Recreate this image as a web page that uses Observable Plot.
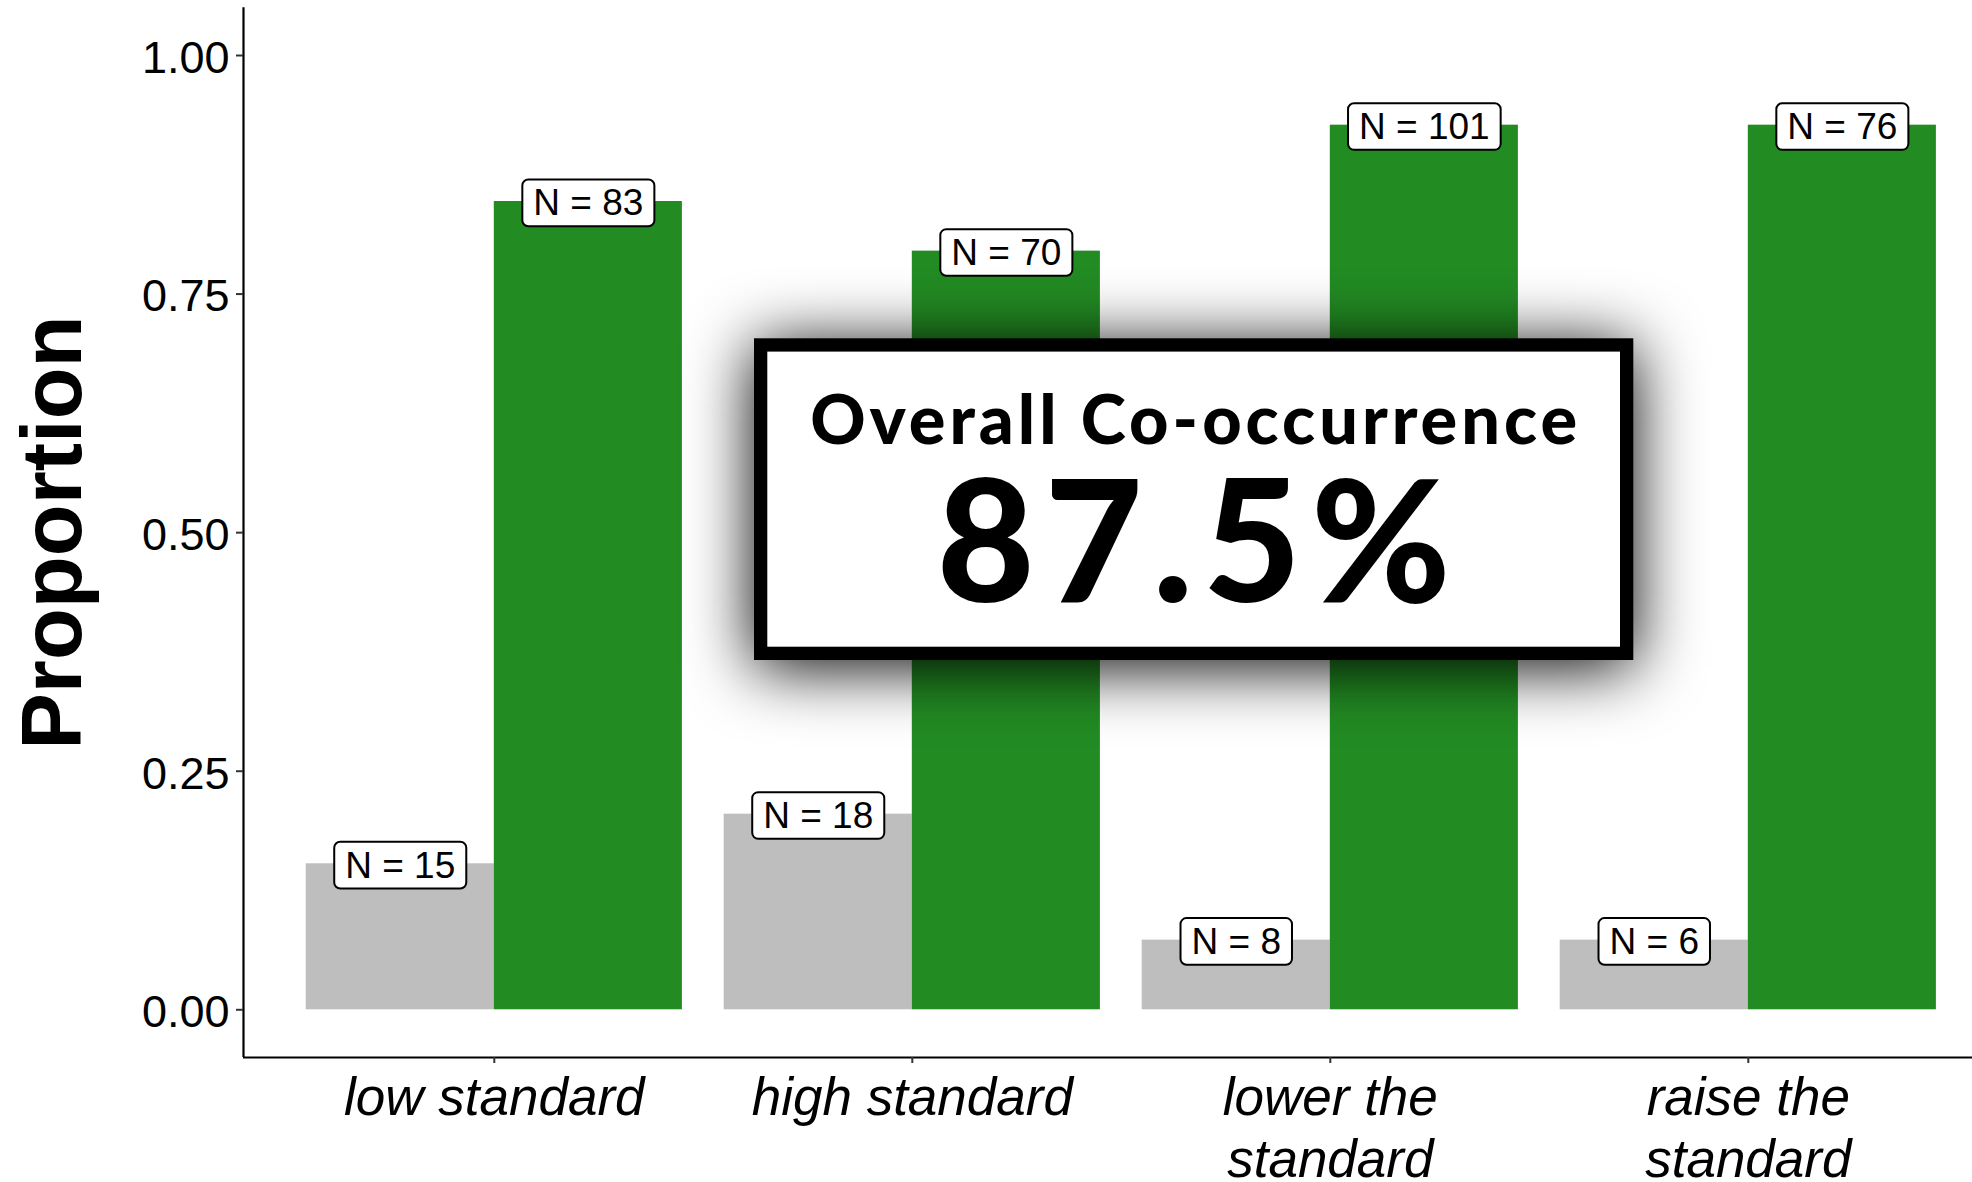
<!DOCTYPE html>
<html>
<head>
<meta charset="utf-8">
<script src="https://cdn.jsdelivr.net/npm/d3@7"></script>
<script src="https://cdn.jsdelivr.net/npm/@observablehq/plot@0.6"></script>
<style>
  html, body { margin: 0; padding: 0; background: #fff; overflow: hidden; }
  #chart { position: relative; width: 1972px; height: 1182px; }
  #chart svg { display: block; overflow: hidden; max-width: none; }
  g[aria-label="y-axis tick"], g[aria-label="x-axis tick"] { stroke: #333; stroke-width: 2px; }
</style>
</head>
<body>
<div id="chart"></div>
<script>
// ---- data ----
const categories = ["low standard", "high standard", "lower the standard", "raise the standard"];
const tickLabels = ["low standard", "high standard", "lower the\nstandard", "raise the\nstandard"];
const groups = ["other", "co-occurring"];
const proportionOther = [0.153, 0.205, 0.073, 0.073];
const proportionCo = [0.847, 0.795, 0.927, 0.927];
const countOther = [15, 18, 8, 6];
const countCo = [83, 70, 101, 76];
const yTicks = [0, 0.25, 0.5, 0.75, 1];
const yLabel = "Proportion";
const overallTitle = "Overall Co-occurrence";
const overallValue = "87.5%";
const colors = ["#BEBEBE", "#228B22"];

const rows = categories.flatMap((c, i) => [
  {category: c, index: i, group: groups[0], value: proportionOther[i], n: countOther[i]},
  {category: c, index: i, group: groups[1], value: proportionCo[i], n: countCo[i]}
]);

// dodge like ggplot (total width 0.9 per category)
const dodge = 0.45;
const left = d => d.index + (d.group === groups[0] ? -dodge : 0);
const right = d => left(d) + dodge;
const mid = d => left(d) + dodge / 2;

const font = "'Liberation Sans', Arimo, Helvetica, Arial, sans-serif";

const plot = Plot.plot({
  width: 1972,
  height: 1182,
  marginTop: 7.3,
  marginBottom: 125,
  marginLeft: 243,
  marginRight: 0,
  style: {fontFamily: font, background: "white", color: "black"},
  x: {domain: [-0.6, 3.6], range: [243, 1998.6]},
  y: {domain: [-0.05, 1.05]},
  color: {domain: groups, range: colors},
  marks: [
    Plot.rectY(rows, {x1: left, x2: right, y1: 0, y2: "value", fill: "group"}),
    Plot.ruleX([-0.6], {stroke: "black", strokeWidth: 2.2}),
    Plot.ruleY([-0.05], {stroke: "black", strokeWidth: 2.2}),
    Plot.axisY({ticks: yTicks, tickSize: 7, tickFormat: () => "", label: null}),
    Plot.axisY({ticks: yTicks, tickSize: 0, tickPadding: 14, tickFormat: d3.format(".2f"),
                fontSize: 45, dy: 3, label: null}),
    Plot.axisX({ticks: [0, 1, 2, 3], tickSize: 6, tickPadding: 7, tickFormat: i => tickLabels[i],
                fontSize: 53, fontStyle: "italic", lineHeight: 1.17, label: null}),
    Plot.text([yLabel], {text: d => d, frameAnchor: "left", textAnchor: "middle", rotate: -90, dx: -190,
                         fontSize: 85, fontWeight: "bold"}),
    Plot.text(rows, {x: mid, y: "value", text: d => `N = ${d.n}`, fontSize: 37, dy: 2, fill: "black"})
  ]
});

document.getElementById("chart").appendChild(plot);

// rounded label boxes (geom_label look) behind the N texts
const svg = d3.select(plot);
svg.selectAll("text").filter(function () { return /^N = /.test(this.textContent); }).each(function () {
  const bb = this.getBBox();
  const h = 46.7, padX = 11;
  const cx = bb.x + bb.width / 2, cy = bb.y + bb.height / 2;
  const r = document.createElementNS("http://www.w3.org/2000/svg", "rect");
  r.setAttribute("x", cx - bb.width / 2 - padX);
  r.setAttribute("y", cy - h / 2);
  r.setAttribute("width", bb.width + 2 * padX);
  r.setAttribute("height", h);
  r.setAttribute("rx", 6);
  r.setAttribute("fill", "white");
  r.setAttribute("stroke", "black");
  r.setAttribute("stroke-width", 2);
  const t = this.getAttribute("transform");
  if (t) r.setAttribute("transform", t);
  this.parentNode.insertBefore(r, this);
});

// overall annotation box with drop shadow
const defs = svg.append("defs");
const filt = defs.append("filter").attr("id", "boxshadow")
  .attr("filterUnits", "userSpaceOnUse")
  .attr("x", 560).attr("y", 160).attr("width", 1280).attr("height", 700);
filt.append("feGaussianBlur").attr("in", "SourceAlpha").attr("stdDeviation", 33).attr("result", "blur");
filt.append("feOffset").attr("in", "blur").attr("dx", 0).attr("dy", 7).attr("result", "off");
const merge = filt.append("feMerge");
merge.append("feMergeNode").attr("in", "off");
merge.append("feMergeNode").attr("in", "SourceGraphic");

const box = {x0: 754, y0: 338.3, x1: 1633.3, y1: 660, border: 13.3};
svg.append("rect")
  .attr("x", box.x0 + box.border / 2).attr("y", box.y0 + box.border / 2)
  .attr("width", box.x1 - box.x0 - box.border).attr("height", box.y1 - box.y0 - box.border)
  .attr("fill", "white").attr("stroke", "black").attr("stroke-width", box.border)
  .attr("filter", "url(#boxshadow)");

const cxBox = (box.x0 + box.x1) / 2;
// size by cap height, then letter-space to the measured width
function placeText(str, baseline, capHeight, targetWidth) {
  const size = capHeight / 0.7165;
  const t = svg.append("text")
    .attr("x", cxBox).attr("y", baseline).attr("text-anchor", "middle")
    .style("font-family", "Lato, 'Noto Sans', sans-serif").style("font-weight", 900)
    .style("font-size", size + "px").attr("fill", "black").text(str);
  const w = t.node().getComputedTextLength();
  const n = str.length;
  const ls = (targetWidth - w) / n;
  t.style("letter-spacing", ls + "px").attr("dx", ls / 2);
  return t;
}
placeText(overallTitle, 444, 49, 771);
placeText(overallValue, 602, 121, 524);
</script>
</body>
</html>
